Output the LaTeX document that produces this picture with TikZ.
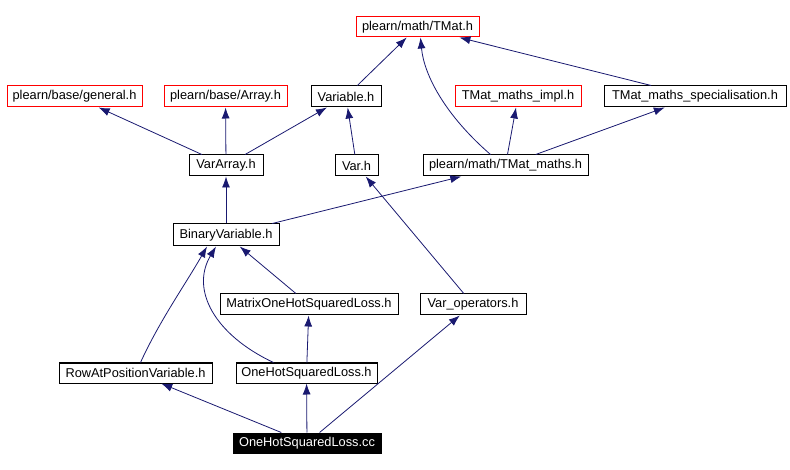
\documentclass[tikz,border=0pt]{standalone}
\usepackage{fontspec}
\setmainfont{Liberation Sans}
\usepackage{xcolor}
\usepackage{tikz}
\usetikzlibrary{arrows.meta,positioning}

\definecolor{edgeblue}{HTML}{191970}

\begin{document}
\begin{tikzpicture}[
  x=1pt, y=-1pt,
  file/.style={draw=black, line width=1pt, inner xsep=2pt, inner ysep=0pt, minimum height=21pt,
    font=\fontsize{12.8}{14}\selectfont},
  missing/.style={file, draw=red},
  current/.style={file, fill=black, text=white},
  incl/.style={-{Latex[length=11pt,width=8pt,fill=edgeblue]}, draw=edgeblue, line width=0.8pt}
]
\useasboundingbox (0,0) rectangle (790,470);

\node[missing, minimum width=135pt] (gen) at (74.5,96.5) {plearn/base/general.h};
\node[missing, minimum width=123pt] (arr) at (225.5,96.5) {plearn/base/Array.h};
\node[file, minimum width=70pt] (var) at (346,96.5) {Variable.h};
\node[missing, minimum width=123pt, minimum height=20pt] (tmat) at (417.5,27) {plearn/math/TMat.h};
\node[missing, minimum width=126pt] (impl) at (518,96.5) {TMat\_maths\_impl.h};
\node[file, minimum width=182pt] (spec) at (695,96.5) {TMat\_maths\_specialisation.h};

\node[file, minimum width=74pt] (vararr) at (226,165.5) {VarArray.h};
\node[file, minimum width=43pt] (varh) at (356.5,165.5) {Var.h};
\node[file, minimum width=165pt] (tmm) at (505.5,165.5) {plearn/math/TMat\_maths.h};

\node[file, minimum width=106pt, minimum height=22pt] (bin) at (226,235) {BinaryVariable.h};
\node[file, minimum width=178pt] (mohsl) at (309,304.5) {MatrixOneHotSquaredLoss.h};
\node[file, minimum width=106pt] (varop) at (473,304.5) {Var\_operators.h};

\node[file, minimum width=153pt, minimum height=20pt] (row) at (135.5,373) {RowAtPositionVariable.h};
\node[file, minimum width=141pt, minimum height=20pt] (ohsl) at (306.5,373) {OneHotSquaredLoss.h};
\node[current, minimum width=148pt, minimum height=20pt] (cc) at (307,443) {OneHotSquaredLoss.cc};

\draw[incl] (vararr) -- (gen);
\draw[incl] (vararr) -- (arr);
\draw[incl] (vararr) -- (var);
\draw[incl] (var) -- (tmat);
\draw[incl] (varh) -- (var);
\draw[incl] ([xshift=-15pt]tmm.north) .. controls (445,115) and (424,75) .. ([xshift=3pt]tmat.south);
\draw[incl] (tmm) -- (impl);
\draw[incl] (tmm) -- (spec);
\draw[incl] (spec) -- (tmat);
\draw[incl] (bin) -- (vararr);
\draw[incl] (bin) -- (tmm);
\draw[incl] (varop) -- (varh);
\draw[incl] (mohsl) -- (bin);
\draw[incl] (ohsl) -- (mohsl);
\draw[incl] ([xshift=-33pt]ohsl.north) .. controls (215,335) and (190,290) .. ([xshift=-10pt]bin.south);
\draw[incl] ([xshift=5pt]row.north) .. controls (160,320) and (185,285) .. ([xshift=-19pt]bin.south);
\draw[incl] (cc) -- (row);
\draw[incl] (cc) -- (ohsl);
\draw[incl] (cc) -- (varop);
\end{tikzpicture}
\end{document}
